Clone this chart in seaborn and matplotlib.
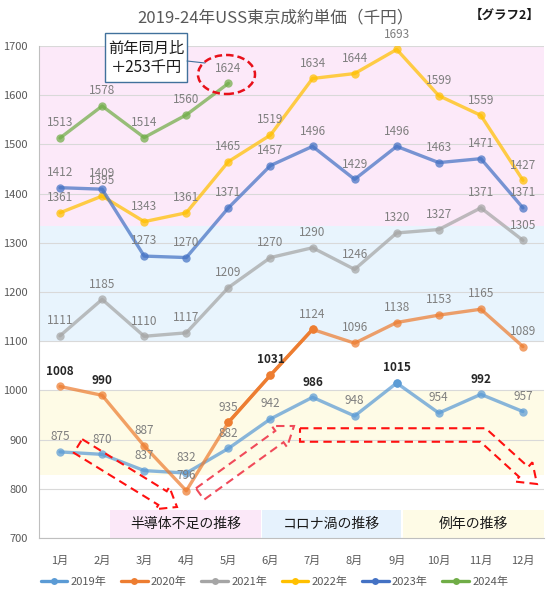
import numpy as np
import pandas as pd
import matplotlib
matplotlib.use("Agg")
import matplotlib.pyplot as plt
import seaborn as sns
from matplotlib.patches import Rectangle, Ellipse, Polygon
from matplotlib.lines import Line2D

# --- data (千円) ---
months = ['1月', '2月', '3月', '4月', '5月', '6月', '7月', '8月', '9月', '10月', '11月', '12月']
years = ['2019年', '2020年', '2021年', '2022年', '2023年', '2024年']
price_2019 = [875, 870, 837, 832, 882, 942, 986, 948, 1015, 954, 992, 957]
price_2020 = [1008, 990, 887, 796, 935, 1031, 1124, 1096, 1138, 1153, 1165, 1089]
price_2021 = [1111, 1185, 1110, 1117, 1209, 1270, 1290, 1246, 1320, 1327, 1371, 1305]
price_2022 = [1361, 1395, 1343, 1361, 1465, 1519, 1634, 1644, 1693, 1599, 1559, 1427]
price_2023 = [1412, 1409, 1273, 1270, 1371, 1457, 1496, 1429, 1496, 1463, 1471, 1371]
price_2024 = [1513, 1578, 1514, 1560, 1624]
colors = ['#5b9bd5', '#ed7d31', '#a5a5a5', '#ffc000', '#4472c4', '#70ad47']

series = [price_2019, price_2020, price_2021, price_2022, price_2023, price_2024]
rows = []
for y, vals in zip(years, series):
    for i, v in enumerate(vals):
        rows.append({'year': y, 'month': i + 1, 'price': v})
df = pd.DataFrame(rows)

# labels drawn dark (emphasised)
dark_labels = {('2020年', 1), ('2020年', 2), ('2020年', 6), ('2019年', 7), ('2019年', 9), ('2019年', 11)}

W, H = 549, 595


def P(x, y):
    return (x / W, 1 - y / H)


def block_arrow(pts, w, hw, hl):
    # hollow block arrow outline along a polyline, in image pixels
    pts = np.array(pts, float)
    pts[:, 1] = H - pts[:, 1]
    d = np.diff(pts, axis=0)
    d = d / np.linalg.norm(d, axis=1)[:, None]
    n = np.column_stack([-d[:, 1], d[:, 0]])
    tip = pts[-1]
    base = tip - d[-1] * hl
    left = [pts[0] + n[0] * w / 2]
    right = [pts[0] - n[0] * w / 2]
    for i in range(1, len(pts) - 1):
        m = (n[i - 1] + n[i]) / (1 + n[i - 1] @ n[i]) * w / 2
        left.append(pts[i] + m)
        right.append(pts[i] - m)
    left += [base + n[-1] * w / 2, base + n[-1] * hw / 2]
    right += [base - n[-1] * w / 2, base - n[-1] * hw / 2]
    verts = np.array(left + [tip] + right[::-1])
    verts[:, 0] /= W
    verts[:, 1] /= H
    return verts


sns.set_theme(style='white')
plt.rcParams['font.family'] = ['Noto Sans CJK JP', 'DejaVu Sans']

fig = plt.figure(figsize=(W / 100, H / 100), dpi=100)
ax = fig.add_axes([39 / W, 1 - 538 / H, (544 - 39) / W, (538 - 46) / H])

# background bands
ax.axhspan(1335, 1700, color='#fce9f9', lw=0, zorder=0)
ax.axhspan(1100, 1335, color='#e8f4fd', lw=0, zorder=0)
ax.axhspan(828, 1000, color='#fefbe6', lw=0, zorder=0)

sns.lineplot(data=df, x='month', y='price', hue='year', palette=dict(zip(years, colors)),
             marker='o', markersize=6, markeredgewidth=0, linewidth=2.4, alpha=0.72,
             legend=False, errorbar=None, ax=ax)

# highlighted parts
ax.plot([5, 6, 7], price_2020[4:7], color=colors[1], lw=2.4, marker='o', ms=6, mew=0, zorder=3)
ax.plot([9], [price_2019[8]], 'o', color=colors[0], ms=6, mew=0, zorder=3)

# data labels
for y, vals in zip(years, series):
    for i, v in enumerate(vals):
        dark = (y, i + 1) in dark_labels
        ax.annotate(str(v), (i + 1, v), xytext=(0, 11), textcoords='offset points',
                    ha='center', va='center', fontsize=8.5,
                    color='#262626' if dark else '#7f7f7f',
                    fontweight='bold' if dark else 'normal', zorder=4)

ax.set_xlim(0.5, 12.5)
ax.set_ylim(700, 1700)
ax.set_xticks(range(1, 13))
ax.set_xticklabels(months)
ax.set_yticks(range(700, 1701, 100))
ax.set_xlabel('')
ax.set_ylabel('')
ax.tick_params(axis='both', length=0, labelsize=8, colors='#595959')
ax.tick_params(axis='x', pad=13)
ax.tick_params(axis='y', pad=8)
ax.set_axisbelow(True)
ax.yaxis.grid(True, color='#d9d9d9', lw=0.8)
ax.xaxis.grid(False)
for s in ['top', 'right']:
    ax.spines[s].set_visible(False)
for s in ['left', 'bottom']:
    ax.spines[s].set_color('#bfbfbf')
    ax.spines[s].set_linewidth(0.8)

# phase boxes at bottom
phase_boxes = [(110, 261, '#fbe8f8', '半導体不足の推移'),
               (262, 401, '#e6f2fd', 'コロナ渦の推移'),
               (403, 544, '#fefbe6', '例年の推移')]
for x0, x1, c, t in phase_boxes:
    ax.add_patch(Rectangle(P(x0, 537.5), (x1 - x0) / W, 27.5 / H, transform=fig.transFigure,
                           color=c, lw=0, zorder=0.6))
    fig.text(*P((x0 + x1) / 2, 524), t, ha='center', va='center', fontsize=10, color='#1a1a1a')

# red dashed hollow arrows
dash = (0, (4, 2.5))
fig.add_artist(Polygon(block_arrow([(78, 446), (177, 507)], 16, 26, 17), closed=True, fill=False,
                       ec='#ff1010', lw=1.5, ls=dash, transform=fig.transFigure))
fig.add_artist(Polygon(block_arrow([(200, 494), (294, 426)], 14, 26, 18), closed=True, fill=False,
                       ec='#f04a5a', lw=1.5, ls=dash, transform=fig.transFigure))
fig.add_artist(Polygon(block_arrow([(300, 435), (483, 435), (537, 484)], 13.5, 26, 18), closed=True,
                       fill=False, ec='#ff1010', lw=1.5, ls=dash, transform=fig.transFigure))

# callout for 2024
fig.add_artist(Ellipse(P(226.5, 74.5), 57 / W, 39 / H, fill=False, ec='#e8101a', lw=1.8, ls=(0, (3, 1.6)),
                       transform=fig.transFigure))
fig.add_artist(Line2D([187 / W, 205 / W], [1 - 61 / H, 1 - 63 / H], color='#41719c', lw=0.8,
                      transform=fig.transFigure))
fig.add_artist(Rectangle(P(105, 82), 82 / W, 49 / H, facecolor='white', edgecolor='#41719c', lw=1,
                         transform=fig.transFigure))
fig.text(*P(146, 58), '前年同月比\n＋253千円', ha='center', va='center', fontsize=11,
         color='#1a1a1a', linespacing=1.15)

# titles
fig.text(*P(276, 18), '2019-24年USS東京成約単価（千円）', ha='center', va='center', fontsize=12, color='#595959')
fig.text(*P(505, 15), '【グラフ2】', ha='center', va='center', fontsize=9, fontweight='bold', color='#1a1a1a')

# legend
handles = [Line2D([], [], color=c, lw=2.4, marker='o', ms=5, mew=0) for c in colors]
fig.legend(handles, years, loc='center', bbox_to_anchor=(0.5, 1 - 582 / H), ncol=6, frameon=False,
           fontsize=8, handlelength=2.4, handletextpad=0.3, columnspacing=1.3, labelcolor='#595959')

fig.savefig('out.png', dpi=100)
